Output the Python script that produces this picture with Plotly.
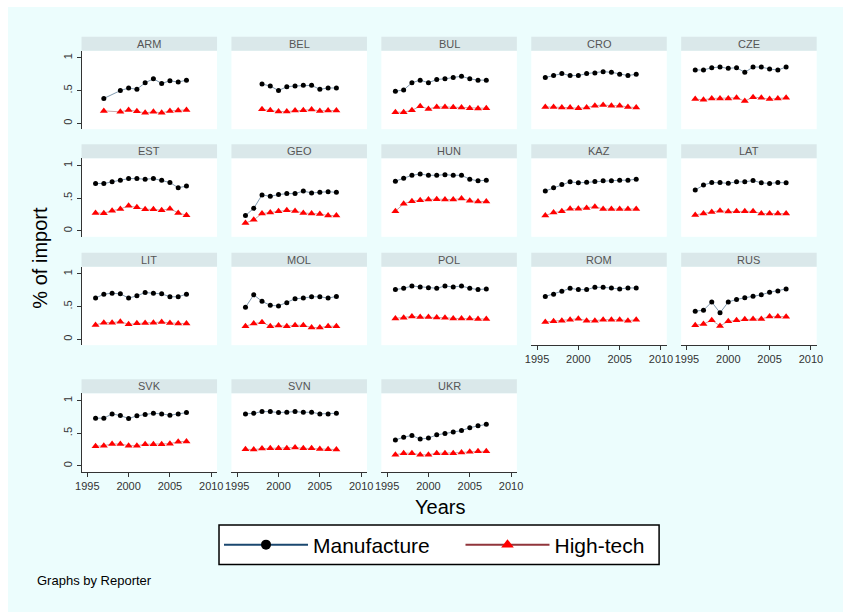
import plotly.graph_objects as go

years = [1996, 1997, 1998, 1999, 2000, 2001, 2002, 2003, 2004, 2005, 2006, 2007]
countries = ["ARM", "BEL", "BUL", "CRO", "CZE",
             "EST", "GEO", "HUN", "KAZ", "LAT",
             "LIT", "MOL", "POL", "ROM", "RUS",
             "SVK", "SVN", "UKR"]
x_ticks = [1995, 2000, 2005, 2010]
y_ticks = [0, 0.5, 1]
y_tick_labels = ["0", ".5", "1"]

ARM_m = [None, .38, None, .50, .54, .52, .62, .68, .61, .65, .63, .66]
ARM_h = [None, .19, None, .175, .205, .185, .16, .175, .16, .19, .195, .205]
BEL_m = [None, None, .60, .57, .50, .56, .57, .58, .58, .52, .54, .54]
BEL_h = [None, None, .215, .20, .18, .18, .195, .20, .21, .19, .195, .195]
BUL_m = [.49, .51, .62, .66, .62, .67, .68, .70, .72, .68, .66, .66]
BUL_h = [.17, .17, .20, .26, .22, .25, .25, .245, .24, .23, .225, .23]
CRO_m = [.70, .73, .76, .73, .73, .76, .77, .79, .78, .75, .73, .75]
CRO_h = [.25, .25, .24, .24, .23, .24, .27, .28, .27, .27, .25, .24]
CZE_m = [.815, .815, .85, .86, .84, .85, .78, .86, .86, .83, .815, .86]
CZE_h = [.37, .36, .38, .38, .38, .39, .34, .40, .39, .37, .38, .39]
EST_m = [.725, .725, .75, .775, .80, .80, .79, .80, .775, .74, .66, .685]
EST_h = [.275, .27, .31, .335, .385, .36, .33, .33, .315, .34, .275, .24]
GEO_m = [.235, .345, .55, .53, .555, .57, .57, .61, .58, .59, .60, .59]
GEO_h = [.12, .17, .265, .28, .30, .315, .305, .275, .265, .26, .235, .235]
HUN_m = [.76, .805, .85, .87, .85, .85, .86, .85, .85, .79, .765, .775]
HUN_h = [.30, .415, .455, .47, .48, .485, .48, .48, .495, .46, .45, .45]
KAZ_m = [.61, .66, .71, .75, .735, .745, .755, .765, .765, .775, .775, .79]
KAZ_h = [.235, .28, .30, .34, .34, .35, .37, .335, .335, .335, .335, .335]
LAT_m = [.625, .70, .74, .74, .73, .75, .75, .77, .735, .725, .74, .735]
LAT_h = [.245, .265, .29, .31, .295, .30, .30, .30, .265, .265, .265, .265]
LIT_m = [.63, .69, .705, .695, .63, .665, .715, .705, .695, .65, .65, .69]
LIT_h = [.22, .255, .255, .27, .23, .245, .25, .255, .265, .25, .24, .24]
MOL_m = [.49, .68, .58, .52, .51, .56, .62, .63, .65, .65, .63, .655]
MOL_h = [.20, .24, .26, .20, .21, .20, .215, .215, .18, .18, .20, .20]
POL_m = [.76, .78, .815, .80, .79, .78, .815, .80, .815, .78, .76, .77]
POL_h = [.32, .33, .35, .34, .34, .335, .33, .32, .32, .32, .31, .31]
ROM_m = [.655, .69, .735, .78, .76, .76, .795, .795, .785, .77, .785, .785]
ROM_h = [.265, .275, .285, .30, .315, .285, .285, .30, .30, .30, .285, .30]
RUS_m = [.43, .445, .57, .405, .57, .61, .635, .66, .68, .72, .74, .77]
RUS_h = [.215, .235, .29, .205, .275, .29, .305, .31, .31, .35, .35, .345]
SVK_m = [.73, .73, .795, .77, .725, .765, .785, .805, .795, .775, .795, .815]
SVK_h = [.30, .31, .335, .335, .31, .31, .33, .33, .33, .34, .37, .375]
SVN_m = [.795, .805, .83, .83, .815, .82, .83, .82, .82, .795, .795, .805]
SVN_h = [.255, .25, .265, .27, .27, .27, .28, .27, .27, .26, .255, .25]
UKR_m = [.395, .44, .465, .41, .425, .475, .495, .52, .54, .585, .615, .635]
UKR_h = [.17, .195, .195, .17, .17, .195, .195, .195, .205, .215, .225, .225]

series = {
    "ARM": (ARM_m, ARM_h), "BEL": (BEL_m, BEL_h), "BUL": (BUL_m, BUL_h),
    "CRO": (CRO_m, CRO_h), "CZE": (CZE_m, CZE_h), "EST": (EST_m, EST_h),
    "GEO": (GEO_m, GEO_h), "HUN": (HUN_m, HUN_h), "KAZ": (KAZ_m, KAZ_h),
    "LAT": (LAT_m, LAT_h), "LIT": (LIT_m, LIT_h), "MOL": (MOL_m, MOL_h),
    "POL": (POL_m, POL_h), "ROM": (ROM_m, ROM_h), "RUS": (RUS_m, RUS_h),
    "SVK": (SVK_m, SVK_h), "SVN": (SVN_m, SVN_h), "UKR": (UKR_m, UKR_h),
}

# figure placed at screen offset (OX, OY); sized to end at the window edge
OX, OY = 8, 7
W, H = 843 - OX, 612 - OY


def px(x):
    return (x - OX) / W


def py(y):
    return 1 - (y - OY) / H


FONT = "Liberation Sans, Arial, sans-serif"
BG = "#ecfdfd"
STRIP = "#dae8ea"
AXC = "#333333"

col_left = [76.5 + 152.1 * i for i in range(5)]
pw = 137.5
row_top = [50.7, 158.3, 266.7, 393.3]
ph = 78.5
strip_h = 14

bottom_panels = {13, 14, 15, 16, 17}

fig = go.Figure()
layout = {}
shapes = []
annotations = []

for k, c in enumerate(countries):
    r, col = divmod(k, 5)
    n = k + 1
    xa = "x" if n == 1 else f"x{n}"
    ya = "y" if n == 1 else f"y{n}"
    l = col_left[col]
    t = row_top[r]
    m_vals, h_vals = series[c]
    fig.add_trace(go.Scatter(
        x=years, y=m_vals, mode="lines+markers", connectgaps=True,
        line=dict(color="rgba(26,71,111,0.55)", width=1),
        marker=dict(symbol="circle", size=5, color="black"),
        xaxis=xa, yaxis=ya, showlegend=False, name="Manufacture"))
    fig.add_trace(go.Scatter(
        x=years, y=h_vals, mode="lines+markers", connectgaps=True,
        line=dict(color="rgba(144,53,59,0.45)", width=1),
        marker=dict(symbol="triangle-up", size=7, color="red"),
        xaxis=xa, yaxis=ya, showlegend=False, name="High-tech"))
    is_bottom = k in bottom_panels
    is_left = col == 0
    layout["xaxis" if n == 1 else f"xaxis{n}"] = dict(
        domain=[px(l), px(l + pw)], anchor=ya, range=[1994.3, 2010.7],
        tickvals=x_ticks, showticklabels=is_bottom,
        ticks="outside" if is_bottom else "", ticklen=4, tickcolor=AXC,
        showline=is_bottom, linecolor=AXC, linewidth=1,
        showgrid=False, zeroline=False,
        tickfont=dict(family=FONT, size=11, color=AXC))
    layout["yaxis" if n == 1 else f"yaxis{n}"] = dict(
        domain=[py(t + ph), py(t)], anchor=xa, range=[-0.09, 1.11],
        tickvals=y_ticks, ticktext=y_tick_labels, showticklabels=is_left,
        tickangle=-90,
        ticks="outside" if is_left else "", ticklen=4, tickcolor=AXC,
        showline=is_left, linecolor=AXC, linewidth=1,
        showgrid=False, zeroline=False,
        tickfont=dict(family=FONT, size=11, color=AXC))
    shapes.append(dict(type="rect", xref="paper", yref="paper",
                       x0=px(l), x1=px(l + pw),
                       y0=py(t), y1=py(t - strip_h),
                       fillcolor=STRIP, line=dict(width=0), layer="below"))
    annotations.append(dict(text=c, xref="paper", yref="paper",
                            x=px(l + pw / 2), y=py(t - strip_h / 2),
                            showarrow=False, xanchor="center", yanchor="middle",
                            font=dict(family=FONT, size=11, color="#555555")))

# legend-only entries (one legend per key, inside a common framed box)
fig.add_trace(go.Scatter(x=[None], y=[None], mode="lines+markers", name="Manufacture",
                         line=dict(color="#1a476f", width=2),
                         marker=dict(symbol="circle", size=10, color="black"),
                         legend="legend"))
fig.add_trace(go.Scatter(x=[None], y=[None], mode="lines+markers", name="High-tech",
                         line=dict(color="#90353b", width=2),
                         marker=dict(symbol="triangle-up", size=11, color="red"),
                         legend="legend2"))

shapes.append(dict(type="rect", xref="paper", yref="paper",
                   x0=px(216), x1=px(662.5), y0=py(564.5), y1=py(525),
                   fillcolor="white", line=dict(color="black", width=1.5),
                   layer="below"))

annotations.append(dict(text="% of import", xref="paper", yref="paper",
                        x=px(34), y=py(258), textangle=-90, showarrow=False,
                        xanchor="center", yanchor="middle",
                        font=dict(family=FONT, size=20, color="black")))
annotations.append(dict(text="Years", xref="paper", yref="paper",
                        x=px(440), y=py(506.5), showarrow=False,
                        xanchor="center", yanchor="middle",
                        font=dict(family=FONT, size=20, color="black")))
annotations.append(dict(text="Graphs by Reporter", xref="paper", yref="paper",
                        x=px(29), y=py(580), xanchor="left", yanchor="middle",
                        showarrow=False,
                        font=dict(family=FONT, size=13, color="black")))

leg_common = dict(orientation="h", xanchor="left", yanchor="middle",
                  bgcolor="rgba(0,0,0,0)", borderwidth=0,
                  font=dict(family=FONT, size=21, color="black"),
                  itemwidth=84, itemsizing="trace")

fig.update_layout(
    width=W, height=H, margin=dict(l=0, r=0, t=0, b=0), autosize=False,
    paper_bgcolor=BG, plot_bgcolor="white",
    shapes=shapes, annotations=annotations,
    legend=dict(x=px(216), y=py(545), **leg_common),
    legend2=dict(x=px(461), y=py(545), **leg_common),
    **layout)

fig.write_html(
    "out.html",
    default_width=f"{W}px", default_height=f"{H}px",
    config={"responsive": False},
    post_script=f"document.body.style.margin='{OY}px 0 0 {OX}px';"
                "document.body.style.overflow='hidden';",
)
